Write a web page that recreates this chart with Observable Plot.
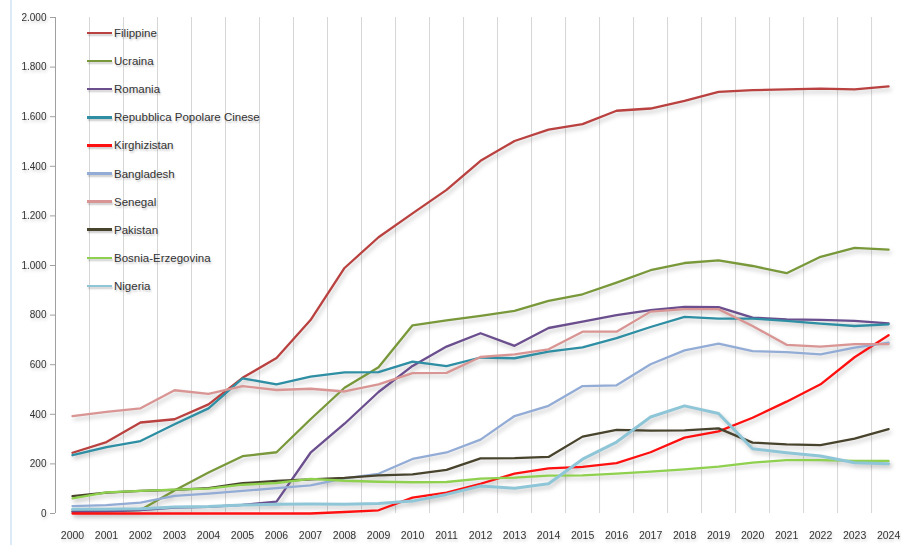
<!DOCTYPE html>
<html>
<head>
<meta charset="utf-8">
<script src="https://cdn.jsdelivr.net/npm/d3@7"></script>
<script src="https://cdn.jsdelivr.net/npm/@observablehq/plot@0.6"></script>
<style>
  body { margin: 0; background: #fff; }
  #wrap { position: relative; width: 901px; height: 545px; overflow: hidden; font-family: "Liberation Sans", Arial, sans-serif; }
  #edge { position: absolute; left: 10px; top: 0; width: 2px; height: 545px; background: #dcebf7; }
  #legend { position: absolute; left: 87px; top: 19px; }
  .li { height: 28.1px; display: flex; align-items: center; font-size: 11.5px; color: #333; text-shadow: 1px 2px 2px rgba(0,0,0,0.22); }
  .sw { width: 25px; height: 2.5px; margin-right: 2px; box-shadow: 1px 2px 2px rgba(0,0,0,0.2); }
</style>
</head>
<body>
<div id="wrap"><div id="edge"></div><div id="chart"></div><div id="legend"></div></div>
<script>
const years = [2000,2001,2002,2003,2004,2005,2006,2007,2008,2009,2010,2011,2012,2013,2014,2015,2016,2017,2018,2019,2020,2021,2022,2023,2024];
const yTicks = [0,200,400,600,800,1000,1200,1400,1600,1800,2000];

const countries = ["Filippine","Ucraina","Romania","Repubblica Popolare Cinese","Kirghizistan","Bangladesh","Senegal","Pakistan","Bosnia-Erzegovina","Nigeria"];
const colors = ["#b9413f","#78983a","#6a4e8e","#2e8ea3","#ff1010","#93acd6","#d99593","#48432c","#8fd14f","#8ec6d8"];

const filippine  = [245,288,367,380,440,547,627,780,990,1114,1210,1305,1422,1502,1548,1570,1624,1633,1664,1700,1707,1710,1713,1710,1722];
const ucraina    = [8,10,14,93,165,231,247,380,507,590,759,779,797,817,857,884,931,981,1010,1021,998,969,1035,1071,1064];
const romania    = [7,9,14,24,27,35,48,245,362,490,595,673,727,676,748,774,800,820,833,832,790,783,781,777,767];
const cina       = [235,268,292,360,424,545,521,552,569,570,612,594,629,626,653,670,707,752,793,786,786,777,766,756,763];
const kirghiz    = [0,0,0,0,0,0,0,0,6,13,64,84,120,161,182,188,203,247,306,331,386,451,521,630,719];
const bangladesh = [30,34,44,71,80,91,102,113,142,160,220,246,298,393,434,514,517,602,658,685,655,651,642,669,689];
const senegal    = [393,410,424,497,482,514,498,503,492,521,566,567,631,642,662,733,733,814,824,824,756,680,673,683,683];
const pakistan   = [70,84,91,95,102,122,131,138,144,154,158,176,222,223,228,310,337,334,335,343,286,279,276,302,340];
const bosnia     = [61,85,91,96,100,116,123,140,132,128,126,127,141,145,153,154,161,169,178,189,205,215,215,212,212];
const nigeria    = [17,17,19,26,28,34,37,38,37,40,50,77,111,102,120,219,288,389,434,403,261,245,232,205,201];

const series = [filippine,ucraina,romania,cina,kirghiz,bangladesh,senegal,pakistan,bosnia,nigeria];

const rows = [];
countries.forEach((c, i) => years.forEach((yr, j) => rows.push({country: c, year: yr, value: series[i][j]})));

const gridX = years.map(y => y - 0.5);

const it = d3.formatLocale({decimal: ",", thousands: ".", grouping: [3], currency: ["", "€"]});
const fmt = it.format(",d");

const chart = Plot.plot({
  width: 901,
  height: 545,
  marginLeft: 55,
  marginRight: 0,
  marginTop: 17,
  marginBottom: 32,
  style: {fontFamily: "'Liberation Sans', Arial, sans-serif", fontSize: "10px", color: "#404040", background: "transparent", overflow: "visible"},
  x: {domain: [1999.5, 2024.38], axis: null, label: null},
  y: {domain: [0, 2000], axis: null, label: null},
  color: {domain: countries, range: colors},
  marks: [
    Plot.ruleX(gridX.slice(1), {stroke: "#d6d6d6", strokeWidth: 1}),
    Plot.ruleX([gridX[0]], {stroke: "#a0a0a0", strokeWidth: 1}),
    Plot.axisX(years, {anchor: "bottom", label: null, tickSize: 0, tickPadding: 18, tickFormat: d => String(d), fontSize: 10.5, fill: "#333"}),
    Plot.axisY(yTicks, {anchor: "left", label: null, tickSize: 5, tickPadding: 4, tickFormat: fmt, stroke: "#a0a0a0", fontSize: 10, fill: "#333"}),
    Plot.line(rows, {x: "year", y: "value", z: "country", stroke: "country",
      strokeWidth: d => d.country === "Nigeria" ? 3 : 2.3, curve: "linear"})
  ]
});
document.getElementById("chart").appendChild(chart);

d3.select(chart).selectAll("g[aria-label=line]").style("filter", "drop-shadow(2px 3px 2px rgba(0,0,0,0.22))");
d3.select(chart).selectAll("g[aria-label='x-axis tick label'], g[aria-label='y-axis tick label']").style("filter", "drop-shadow(1px 2px 1.5px rgba(0,0,0,0.2))");

const legend = d3.select("#legend");
countries.forEach((c, i) => {
  const row = legend.append("div").attr("class", "li");
  row.append("div").attr("class", "sw").style("background", colors[i]);
  row.append("span").text(c);
});
</script>
</body>
</html>
